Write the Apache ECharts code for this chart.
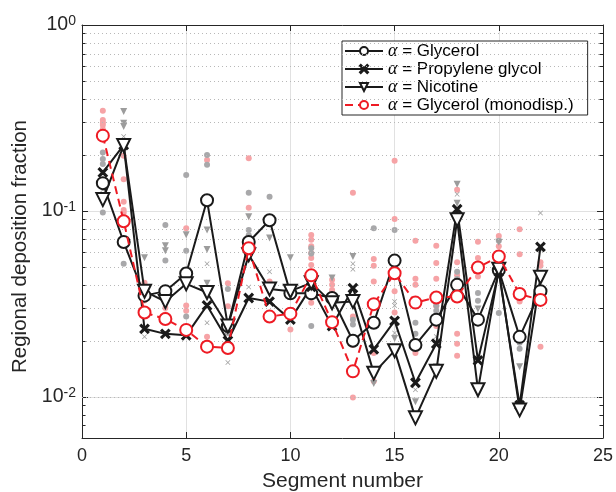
<!DOCTYPE html>
<html>
<head>
<meta charset="utf-8">
<script src="https://cdn.jsdelivr.net/npm/echarts@6/dist/echarts.min.js"></script>
<style>
  html, body { margin: 0; padding: 0; background: #fff; }
  #chart { width: 616px; height: 492px; }
</style>
</head>
<body>
<div id="chart"></div>
<script>
var segments = [1, 2, 3, 4, 5, 6, 7, 8, 9, 10, 11, 12, 13, 14, 15, 16, 17, 18, 19, 20, 21, 22];

// mean curves
var glycerol = [0.141, 0.068, 0.035, 0.037, 0.046, 0.114, 0.024, 0.068, 0.089, 0.036, 0.036, 0.034,
    0.020, 0.025, 0.054, 0.019, 0.026, 0.040, 0.026, 0.048, 0.021, 0.037];
var propylene = [0.161, 0.226, 0.0232, 0.0218, 0.0214, 0.031, 0.020, 0.034, 0.0325, 0.026, 0.039, 0.024,
    0.0384, 0.018, 0.0256, 0.0119, 0.0193, 0.102, 0.0157, 0.047, 0.009, 0.064];
var nicotine = [0.115, 0.225, 0.037, 0.0325, 0.0405, 0.0364, 0.024, 0.058, 0.038, 0.037, 0.041, 0.032,
    0.0325, 0.0134, 0.0177, 0.0077, 0.0137, 0.0895, 0.0109, 0.0485, 0.0085, 0.044];
var glycerolMono = [0.254, 0.088, 0.0284, 0.0262, 0.0229, 0.0186, 0.0183, 0.063, 0.027, 0.028, 0.045, 0.0252,
    0.0137, 0.0315, 0.0462, 0.0321, 0.0342, 0.0346, 0.0496, 0.0568, 0.0357, 0.0332];

// individual runs [segment, fraction]
var glycerolRuns = [[1, 0.206], [1, 0.190], [1, 0.179], [1, 0.098], [2, 0.052], [4, 0.084], [4, 0.054],
    [5, 0.156], [5, 0.061], [5, 0.027], [6, 0.200], [6, 0.177], [7, 0.038], [7, 0.022], [8, 0.125],
    [8, 0.079], [8, 0.074], [9, 0.119], [11, 0.063], [11, 0.059], [11, 0.024], [12, 0.0347],
    [13, 0.026], [13, 0.0245], [14, 0.0807], [15, 0.079], [16, 0.025], [16, 0.0218], [17, 0.0325],
    [17, 0.031], [17, 0.029], [18, 0.047], [18, 0.043], [19, 0.0362], [19, 0.0328], [20, 0.069],
    [20, 0.0282], [21, 0.0195], [21, 0.0181], [22, 0.0375]];
var propyleneRuns = [[1, 0.13], [2, 0.251], [3, 0.021], [6, 0.052], [6, 0.025], [7, 0.0153], [8, 0.039],
    [9, 0.047], [13, 0.052], [13, 0.0486], [15, 0.0325], [15, 0.031], [15, 0.022], [16, 0.0109],
    [17, 0.0211], [18, 0.123], [22, 0.0974], [22, 0.062]];
var nicotineRuns = [[2, 0.342], [2, 0.296], [2, 0.284], [3, 0.056], [4, 0.065], [4, 0.061], [5, 0.0743],
    [6, 0.079], [6, 0.062], [6, 0.0408], [8, 0.093], [9, 0.0714], [10, 0.056], [12, 0.0435],
    [13, 0.0568], [14, 0.0118], [15, 0.0206], [16, 0.0094], [17, 0.0145], [18, 0.139], [18, 0.11],
    [19, 0.0297], [20, 0.0678], [21, 0.0145]];
var monoRuns = [[1, 0.346], [1, 0.308], [1, 0.298], [1, 0.29], [1, 0.275], [2, 0.198], [2, 0.148],
    [2, 0.112], [2, 0.101], [2, 0.098], [3, 0.041], [3, 0.036], [3, 0.033], [4, 0.0325], [4, 0.030],
    [4, 0.0277], [5, 0.0807], [5, 0.031], [5, 0.029], [6, 0.188], [6, 0.021], [6, 0.0196], [7, 0.0408],
    [7, 0.0307], [8, 0.192], [8, 0.104], [9, 0.0417], [10, 0.023], [11, 0.0742], [11, 0.0699],
    [11, 0.0645], [11, 0.0593], [11, 0.0558], [11, 0.0512], [11, 0.032], [12, 0.0426], [12, 0.040],
    [12, 0.0375], [13, 0.125], [13, 0.027], [13, 0.019], [13, 0.0099], [14, 0.0551], [14, 0.0507],
    [14, 0.0417], [14, 0.0172], [14, 0.0121], [15, 0.186], [15, 0.0905], [15, 0.037], [15, 0.0284],
    [16, 0.069], [16, 0.0432], [16, 0.040], [16, 0.0172], [17, 0.065], [17, 0.0525], [17, 0.0431],
    [17, 0.0307], [17, 0.024], [18, 0.13], [18, 0.0529], [18, 0.045], [18, 0.0218], [18, 0.0193],
    [18, 0.0166], [19, 0.0682], [19, 0.0558], [19, 0.0443], [20, 0.0733], [20, 0.0645], [21, 0.0797],
    [21, 0.0585], [21, 0.0325], [22, 0.0529], [22, 0.0507], [22, 0.0186]];

var minorValues = [0.007, 0.008, 0.009, 0.02, 0.03, 0.04, 0.05, 0.06, 0.07, 0.08, 0.09,
    0.2, 0.3, 0.4, 0.5, 0.6, 0.7, 0.8, 0.9];

var FONT = "'Liberation Sans', Arial, Helvetica, sans-serif";
var INK = '#262626';
var BLACK = '#1a1a1a';
var RED = '#ee1b24';
var crossPath = 'path://M0,1L1,0L5,4L9,0L10,1L6,5L10,9L9,10L5,6L1,10L0,9L4,5Z';

function pairs(values) {
    var out = [];
    for (var i = 0; i < values.length; i++) {
        out.push([segments[i], values[i]]);
    }
    return out;
}

function powerLabel(value) {
    var e = Math.log10(value);
    if (Math.abs(e - Math.round(e)) > 1e-6) return '';
    return '{b|10}{s|' + Math.round(e) + '}';
}

// dotted minor grid and short minor ticks on both sides
var minorLines = [];
for (var i = 0; i < minorValues.length; i++) {
    minorLines.push({yAxis: minorValues[i]});
}
var minorTicks = [];
for (var j = 0; j < minorValues.length; j++) {
    var m = minorValues[j];
    minorTicks.push([{coord: [0, m]}, {coord: [0.17, m]}]);
    minorTicks.push([{coord: [24.83, m]}, {coord: [25, m]}]);
}

function meanSeries(name, values, symbol, color, size, extra) {
    var s = {
        name: name,
        type: 'line',
        data: pairs(values),
        symbol: symbol,
        symbolSize: size,
        showSymbol: true,
        z: 5,
        lineStyle: {color: color, width: 2},
        itemStyle: {color: color, borderColor: color, borderWidth: 2}
    };
    for (var k in extra) s[k] = extra[k];
    return s;
}

function runSeries(data, symbol, color, size, extra) {
    var s = {
        type: 'scatter',
        data: data,
        symbol: symbol,
        symbolSize: size,
        z: 2,
        silent: true,
        itemStyle: {color: color, opacity: 1}
    };
    for (var k in extra) s[k] = extra[k];
    return s;
}

var myChart = echarts.init(document.getElementById('chart'), null, {renderer: 'canvas'});

var option = {
    backgroundColor: '#fff',
    animation: false,
    textStyle: {fontFamily: FONT},
    grid: {left: 82, right: 13, top: 25, bottom: 54, containLabel: false, outerBoundsMode: 'none'},
    legend: {
        data: ['Glycerol', 'Propylene glycol', 'Nicotine', 'Glycerol (monodisp.)'],
        orient: 'vertical',
        left: 342,
        top: 41,
        padding: [1, 14, 1, 2],
        itemGap: 0,
        itemWidth: 38,
        itemHeight: 10,
        backgroundColor: '#fff',
        borderColor: INK,
        borderWidth: 1,
        borderRadius: 0,
        formatter: function (name) {
            return '{a|α} = ' + name;
        },
        textStyle: {
            fontFamily: FONT,
            fontSize: 17,
            lineHeight: 18,
            color: '#000',
            rich: {
                a: {fontFamily: "'Liberation Serif', 'DejaVu Serif', serif", fontStyle: 'italic', fontSize: 18, lineHeight: 18, color: '#000'}
            }
        }
    },
    xAxis: [
        {
            type: 'value',
            min: 0,
            max: 25,
            interval: 5,
            position: 'bottom',
            name: 'Segment number',
            nameLocation: 'middle',
            nameGap: 33,
            nameTextStyle: {fontFamily: FONT, fontSize: 21, color: INK},
            axisLine: {show: true, onZero: false, lineStyle: {color: INK, width: 1}},
            axisTick: {show: true, inside: true, length: 6, lineStyle: {color: INK}},
            axisLabel: {fontFamily: FONT, fontSize: 18, color: INK, margin: 9},
            splitLine: {show: true, lineStyle: {color: '#e1e1e1', width: 1}}
        },
        {
            type: 'value',
            min: 0,
            max: 25,
            interval: 5,
            position: 'top',
            axisLine: {show: true, onZero: false, lineStyle: {color: INK, width: 1}},
            axisTick: {show: true, inside: true, length: 6, lineStyle: {color: INK}},
            axisLabel: {show: false},
            splitLine: {show: false}
        }
    ],
    yAxis: [
        {
            type: 'log',
            logBase: 10,
            min: 0.006,
            max: 1,
            position: 'left',
            name: 'Regional deposition fraction',
            nameLocation: 'middle',
            nameGap: 51,
            nameTextStyle: {fontFamily: FONT, fontSize: 20.5, color: INK, padding: [0, 30, 0, 0]},
            axisLine: {show: true, onZero: false, lineStyle: {color: INK, width: 1}},
            axisTick: {show: true, inside: true, length: 6, lineStyle: {color: INK}},
            axisLabel: {
                margin: 6,
                formatter: powerLabel,
                rich: {
                    b: {fontFamily: FONT, fontSize: 19.5, color: INK},
                    s: {fontFamily: FONT, fontSize: 14, color: INK, verticalAlign: 'top', padding: [0, 0, 8, 0]}
                }
            },
            splitLine: {show: true, lineStyle: {color: '#e1e1e1', width: 1}}
        },
        {
            type: 'log',
            logBase: 10,
            min: 0.006,
            max: 1,
            position: 'right',
            axisLine: {show: true, onZero: false, lineStyle: {color: INK, width: 1}},
            axisTick: {show: true, inside: true, length: 6, lineStyle: {color: INK}},
            axisLabel: {show: false},
            splitLine: {show: false}
        }
    ],
    series: [
        {
            type: 'line',
            data: [[1, 0.1]],
            symbol: 'none',
            silent: true,
            z: 1,
            lineStyle: {opacity: 0},
            markLine: {
                silent: true,
                symbol: 'none',
                label: {show: false},
                animation: false,
                lineStyle: {color: '#b8b8b8', width: 1, type: [1, 3]},
                data: minorLines
            }
        },
        {
            type: 'line',
            data: [[1, 0.1]],
            symbol: 'none',
            silent: true,
            z: 6,
            lineStyle: {opacity: 0},
            markLine: {
                silent: true,
                symbol: 'none',
                label: {show: false},
                animation: false,
                lineStyle: {color: INK, width: 1, type: 'solid'},
                data: minorTicks
            }
        },
        runSeries(monoRuns, 'circle', '#f6a3a6', 6),
        runSeries(glycerolRuns, 'circle', '#a8a8aa', 6),
        runSeries(nicotineRuns, 'triangle', '#9c9c9c', 7, {symbolRotate: 180}),
        runSeries(propyleneRuns, crossPath, '#9c9c9c', 5),
        meanSeries('Glycerol', glycerol, 'emptyCircle', BLACK, 12),
        meanSeries('Propylene glycol', propylene, crossPath, BLACK, 8),
        meanSeries('Nicotine', nicotine, 'emptyTriangle', BLACK, 13, {symbolRotate: 180}),
        meanSeries('Glycerol (monodisp.)', glycerolMono, 'emptyCircle', RED, 12, {
            z: 7,
            lineStyle: {color: RED, width: 2, type: [8, 5]}
        })
    ]
};

myChart.setOption(option);
</script>
</body>
</html>
